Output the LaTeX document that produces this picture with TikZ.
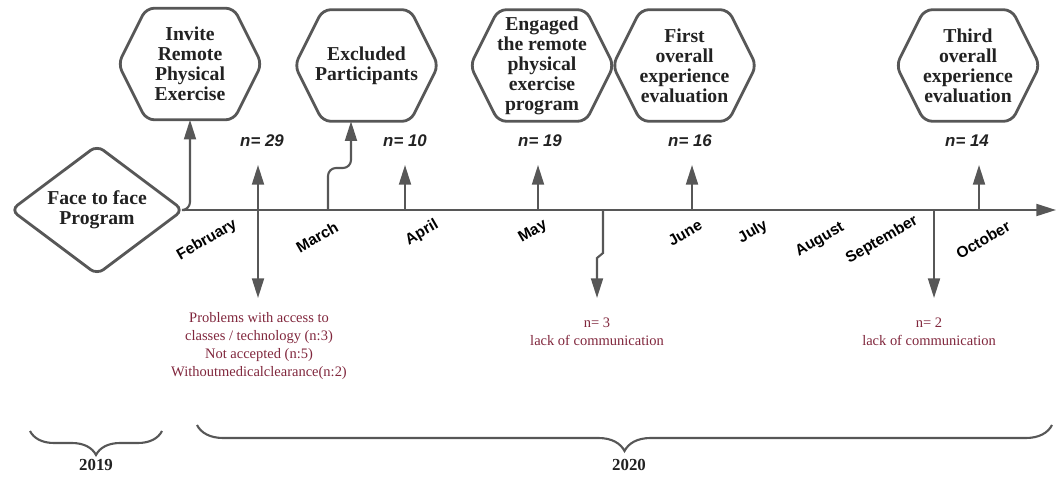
\documentclass[tikz,border=0pt]{standalone}
\usepackage{fontspec}
\setmainfont{Liberation Serif}
\setsansfont{Liberation Sans}
\usepackage{tikz}
\usetikzlibrary{shapes}
\usetikzlibrary{arrows,arrows.meta}
\usetikzlibrary{decorations.pathreplacing}
\definecolor{linegray}{HTML}{575757}
\definecolor{wine}{RGB}{128,38,60}
\definecolor{ink}{HTML}{222222}

\begin{document}
\begin{tikzpicture}[x=0.025cm,y=-0.025cm]
		\tikzstyle{hexa}=[minimum width=3.575cm,minimum height=2.775cm,inner sep=0pt,align=center,text=ink,font=\fontsize{14}{14.2}\selectfont\bfseries]
		\tikzstyle{hexline}=[draw=linegray,line width=2pt,rounded corners=0.2cm]
		\tikzstyle{tl}=[draw=linegray,line width=1.5pt]
		\tikzstyle{arr}=[tl,-{Triangle[length=14pt,width=8.5pt]}]
		\tikzstyle{nlabel}=[font=\sffamily\bfseries\itshape\fontsize{12}{14}\selectfont,text=ink]
		\tikzstyle{month}=[font=\sffamily\bfseries\fontsize{11}{12}\selectfont,rotate=30,text=black]
		\tikzstyle{loss}=[align=center,text=wine,font=\fontsize{10.3}{13}\selectfont]
		\tikzstyle{yearlabel}=[font=\bfseries\fontsize{12}{14}\selectfont,text=ink]
		
		\useasboundingbox (0,0) rectangle (1056,477);
		
		% start of the program
		\node[diamond,aspect=1.33,draw=linegray,line width=2pt,rounded corners=0.2cm,minimum width=4.325cm,minimum height=3.25cm,inner sep=0pt,align=center,text=ink,font=\fontsize{14}{14.2}\selectfont\bfseries](d) at (97,210) {Face to face\\Program};
		
		% steps
		\node[hexa](h1) at (190,64) {Invite\\Remote\\Physical\\Exercise};
		\node[hexa](h2) at (366.5,65.5) {Excluded\\Participants};
		\node[hexa](h3) at (542,65.5) {Engaged\\the remote\\physical\\exercise\\program};
		\node[hexa](h4) at (684.5,65.5) {First\\overall\\experience\\evaluation};
		\node[hexa](h5) at (968,65.5) {Third\\overall\\experience\\evaluation};
		\foreach \h in {h1,h2,h3,h4,h5}
			\draw[hexline] (\h.west) -- ([xshift=0.7cm]\h.north west) -- ([xshift=-0.7cm]\h.north east) -- (\h.east) -- ([xshift=-0.7cm]\h.south east) -- ([xshift=0.7cm]\h.south west) -- cycle;
		
		\node[nlabel](n1) at (262,141) {n= 29};
		\node[nlabel](n2) at (405,141) {n= 10};
		\node[nlabel](n3) at (540,141) {n= 19};
		\node[nlabel](n4) at (690,141) {n= 16};
		\node[nlabel](n5) at (967,141) {n= 14};
		
		% time line
		\coordinate (end) at (1056,210);
		\coordinate (feb) at (258,210);
		\coordinate (mar) at (328,210);
		\coordinate (apr) at (405,210);
		\coordinate (may) at (538,210);
		\coordinate (may2) at (603,210);
		\coordinate (jun) at (692,210);
		\coordinate (sep) at (934,210);
		\coordinate (oct) at (979,210);
		\coordinate (x2) at (351,168);
		\draw[arr] (d.east) -- (end);
		
		\node[month](m1) at (207,240) {February};
		\node[month](m2) at (317,237) {March};
		\node[month](m3) at (422,233) {April};
		\node[month](m4) at (533,232) {May};
		\node[month](m5) at (685,233) {June};
		\node[month](m6) at (753,232) {July};
		\node[month](m7) at (820,240) {August};
		\node[month](m8) at (882,240) {September};
		\node[month](m9) at (983,240) {October};
		
		% up
		\draw[arr,rounded corners=0.2cm] (d.east) -| (h1.south);
		\draw[arr,rounded corners=0.2cm] (mar) |- (x2) -- (x2 |- h2.south);
		\foreach \m in {feb,apr,may,jun,oct}
			\draw[arr] (\m) -- ++(0,-45);
		
		% down
		\node[loss](l1) at (259,346) {Problems with access to\\classes / technology (n:3)\\Not accepted (n:5)\\Withoutmedicalclearance(n:2)};
		\node[loss](l2) at (597,332) {n= 3\\lack of communication};
		\node[loss](l3) at (929,332) {n= 2\\lack of communication};
		\draw[arr] (feb) -- ++(0,88);
		\draw[arr] (may2) -- ++(0,43) -- ++(-6,5) -- ++(0,40);
		\draw[arr] (sep) -- ++(0,88);
		
		% years
		\draw[tl,decorate,decoration={brace,mirror,amplitude=0.6cm}] (30,431) -- (162,431);
		\draw[tl,decorate,decoration={brace,mirror,amplitude=0.65cm}] (197,425) -- (1052,425);
		\node[yearlabel](y1) at (96,465) {2019};
		\node[yearlabel](y2) at (629,465) {2020};
\end{tikzpicture}
\end{document}
